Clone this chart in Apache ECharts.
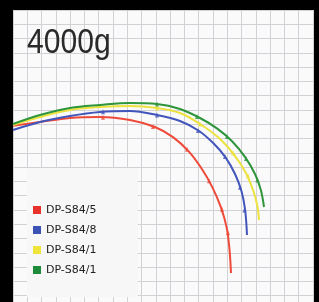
<!DOCTYPE html>
<html>
<head>
<meta charset="utf-8">
<script src="https://cdn.jsdelivr.net/npm/echarts@6/dist/echarts.min.js"></script>
<style>
  html, body { margin: 0; padding: 0; background: #000; }
  #chart { width: 319px; height: 302px; }
</style>
</head>
<body>
<div id="chart"></div>
<script>
// grid units: 1 unit = one square of the graph paper
const seriesNames = ['DP-S84/5', 'DP-S84/8', 'DP-S84/10', 'DP-S84/15'];
const colors = ['#ee4a3a', '#4255bb', '#ece23e', '#2f953a'];
const legendColors = ['#e8312a', '#3a52b4', '#f0e43a', '#1e8b3a'];

// rod curves [x, y] (y counted downward from the top)
const red = [[0, 8.1], [1.89, 7.84], [3.99, 7.56], [6.09, 7.49], [8.19, 7.7], [9.94, 8.19], [11.2, 8.9], [12.3, 9.9], [13.2, 11.1], [13.95, 12.4], [14.55, 13.8], [14.95, 15.2], [15.15, 16.7], [15.26, 18.41]];
const blue = [[0, 8.4], [1.89, 7.84], [3.99, 7.42], [6.09, 7.14], [8.19, 7.07], [10.08, 7.35], [11.69, 7.77], [13.0, 8.45], [14.05, 9.35], [14.9, 10.35], [15.55, 11.5], [16.0, 12.7], [16.25, 14.0], [16.38, 15.75]];
const yellow = [[0, 8.05], [1.89, 7.49], [3.99, 7.0], [6.09, 6.79], [8.19, 6.72], [10.08, 6.86], [11.69, 7.21], [13.09, 7.98], [14.4, 8.95], [15.45, 10.1], [16.25, 11.3], [16.8, 12.6], [17.1, 13.7], [17.22, 14.7]];
const green = [[0, 7.98], [1.89, 7.35], [3.99, 6.86], [6.09, 6.65], [8.19, 6.51], [10.08, 6.58], [11.69, 6.93], [13.09, 7.56], [14.3, 8.3], [15.35, 9.2], [16.25, 10.3], [16.95, 11.5], [17.35, 12.6], [17.57, 13.79]];

// guide positions along each rod
const redGuides = [[6.3, 7.5], [9.8, 8.15], [12.18, 9.75], [13.72, 11.95], [14.63, 13.95], [15.05, 15.6]];
const blueGuides = [[6.3, 7.12], [10.08, 7.35], [12.95, 8.43], [14.84, 10.25], [15.89, 12.4], [16.2, 14.0]];
const yellowGuides = [[10.08, 6.86], [13.09, 7.98], [15.4, 10.0], [16.45, 11.6]];
const greenGuides = [[10.08, 6.58], [12.88, 7.45], [14.98, 8.85], [16.31, 10.4], [17.1, 11.9]];

const curves = [red, blue, yellow, green];
const guides = [redGuides, blueGuides, yellowGuides, greenGuides];

var myChart = echarts.init(document.getElementById('chart'));

const lineSeries = curves.map((d, i) => ({
    name: seriesNames[i],
    type: 'line',
    data: d,
    smooth: 0.35,
    showSymbol: false,
    lineStyle: { color: colors[i], width: 2 },
    itemStyle: { color: legendColors[i] },
    z: 2 + i * 0.1
}));

const guideSeries = guides.map((d, i) => ({
    name: seriesNames[i],
    type: 'scatter',
    data: d,
    symbol: 'triangle',
    symbolSize: [4, 5],
    itemStyle: { color: colors[i] },
    z: 2
}));

const option = {
    backgroundColor: '#000',
    animation: false,
    grid: {
        left: 13,
        top: 10,
        right: 6,
        bottom: 0,
        show: true,
        backgroundColor: '#fafafa',
        borderWidth: 0
    },
    xAxis: {
        type: 'value',
        min: 0,
        max: 21,
        interval: 1,
        axisLine: { show: false },
        axisTick: { show: false },
        axisLabel: { show: false },
        splitLine: { lineStyle: { color: '#d2d2d6', width: 1 } }
    },
    yAxis: {
        type: 'value',
        inverse: true,
        min: 0,
        max: 20.44,
        interval: 1,
        axisLine: { show: false },
        axisTick: { show: false },
        axisLabel: { show: false },
        splitLine: { lineStyle: { color: '#d2d2d6', width: 1 } }
    },
    legend: {
        data: seriesNames,
        orient: 'vertical',
        left: 33,
        top: 204,
        padding: 0,
        itemWidth: 8,
        itemHeight: 8,
        itemGap: 8,
        icon: 'rect',
        textStyle: {
            fontFamily: "'DejaVu Sans', sans-serif",
            fontSize: 11,
            lineHeight: 12,
            color: '#222',
            width: 58,
            overflow: 'truncate',
            ellipsis: ''
        }
    },
    graphic: [{
        type: 'rect',
        left: 27,
        top: 168,
        shape: { width: 111, height: 129 },
        style: { fill: '#f7f7f7' },
        z: 3
    }, {
        type: 'text',
        x: 27,
        y: 26,
        scaleX: 0.86,
        style: {
            text: '4000g',
            fontFamily: "'Liberation Sans', sans-serif",
            fontSize: 35,
            fill: '#2a2a2a'
        },
        z: 5
    }],
    series: lineSeries.concat(guideSeries)
};

myChart.setOption(option);
</script>
</body>
</html>
